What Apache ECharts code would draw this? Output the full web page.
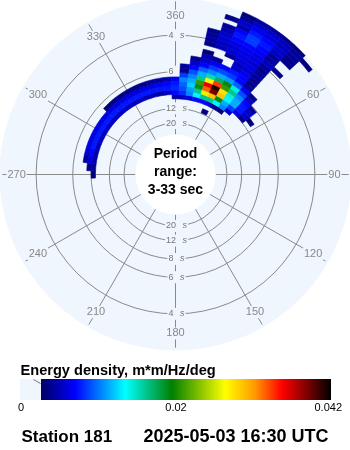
<!DOCTYPE html>
<html>
<head>
<meta charset="utf-8">
<script src="https://cdn.jsdelivr.net/npm/echarts@6/dist/echarts.min.js"></script>
<style>
  html, body { margin: 0; padding: 0; background: #ffffff; }
  #chart { width: 350px; height: 450px; }
</style>
</head>
<body>
<div id="chart"></div>
<script>
// Directional wave energy spectrum: direction (deg, clockwise from north) vs frequency (Hz).
const stationName = 'Station 181';
const timeLabel = '2025-05-03 16:30 UTC';
const periodNote = 'Period\nrange:\n3-33 sec';
const colorbarTitle = 'Energy density, m*m/Hz/deg';

// Rings (wave period, s) and spokes (direction, deg)
const ringPeriods = [4, 6, 8, 12, 20];
const spokeDirections = [0, 30, 60, 90, 120, 150, 180, 210, 240, 270, 300, 330];
const spokeLabels = ['360', '30', '60', '90', '120', '150', '180', '210', '240', '270', '300', '330'];

// Colorbar tick labels
const colorbarTicks = ['0', '0.02', '0.042'];

// Direction bins (deg, 5 deg wide)
const directions = [270, 275, 280, 285, 290, 295, 300, 305, 310, 315,
                    320, 325, 330, 335, 340, 345, 350, 355, 0, 5,
                    10, 15, 20, 25, 30, 35, 40, 45, 50, 55];

// Frequency band centres (Hz, 0.01 Hz wide)
const bands = [0.09, 0.10, 0.11, 0.12, 0.13, 0.14, 0.15, 0.16, 0.17, 0.18,
               0.19, 0.20, 0.21, 0.22, 0.23, 0.24, 0.25, 0.26, 0.27, 0.28,
               0.29, 0.30, 0.31, 0.32, 0.33];

// Energy density per band and direction, in 1e-3 m*m/Hz/deg
const energy = [
  /* 0.09 */ [0,0,0,0,0,0,0,0,0,0, 0,0,0,0,0,0,0,0,0,0, 0,0,0,3.5,0,0,0,0,0,0],
  /* 0.10 */ [0,0,0,0,0,0,0,0,0,0, 0,0,0,0,0,0,0,0,0,0, 0,0,0,0,0,0,0,0,0,0],
  /* 0.11 */ [0,0,0,0,0,0,0,0,0,0, 0,0,0,0,0,0,0,0,4.5,5.5, 6.5,7.5,7.5,6.5,4,3.5,0,0,0,0],
  /* 0.12 */ [3.5,4.5,5,5,5,5.5,5.5,5.5,5.5,5.5, 5.5,5.5,5.5,5.5,5,5,4.5,5.5,7.5,8.5, 11,14,17,17,14,11,6,0,0,0],
  /* 0.13 */ [0,4,6.5,7.5,8,8,8,8,8,8, 8,8,8,8,8,8,8,8,8.5,9.5, 11.5,17,27,30,20,12,9,7,4,0],
  /* 0.14 */ [0,0,4.5,6,6.5,6.5,6.5,6.5,6.5,6.5, 6.5,6.5,6.5,6.5,6.5,6.5,7,7.5,8,10, 13,20,33,39,30,14,12,8,6,3.5],
  /* 0.15 */ [0,0,0,0,0,0,0,0,0,3.5, 4,4,4,4,4,4.5,4.5,5,7,11, 12,22,36,41,29,15,12,8,6,0],
  /* 0.16 */ [0,0,0,0,0,0,0,0,0,0, 0,0,0,0,0,0,0,0,0,9, 11,17,28,34,22,17,11,7.5,4.5,0],
  /* 0.17 */ [0,0,0,0,0,0,0,0,0,0, 0,0,0,0,0,0,0,0,0,4, 9.5,12,16,18,20,15,9.5,6,0,0],
  /* 0.18 */ [0,0,0,0,0,0,0,0,0,0, 0,0,0,0,0,0,0,0,0,4.5, 7.5,10,11,12,11.5,10,7,4,0,0],
  /* 0.19 */ [0,0,0,0,0,0,0,0,0,0, 0,0,0,0,0,0,0,0,0,0, 6,7.5,9,9.5,9,7.5,4.5,0,0,0],
  /* 0.20 */ [0,0,0,0,0,0,0,0,0,0, 0,0,0,0,0,0,0,0,0,0, 4,6,7,7.5,8,7.5,4,0,0,0],
  /* 0.21 */ [0,0,0,0,0,0,0,0,0,0, 0,0,0,0,0,0,0,0,0,0, 0,5,4.5,0,6,7,4,0,0,0],
  /* 0.22 */ [0,0,0,0,0,0,0,0,0,0, 0,0,0,0,0,0,0,0,0,0, 0,3.5,0,0,5.5,6,4.5,0,0,0],
  /* 0.23 */ [0,0,0,0,0,0,0,0,0,0, 0,0,0,0,0,0,0,0,0,0, 0,0,0,4.5,6,6.5,4.5,0,0,0],
  /* 0.24 */ [0,0,0,0,0,0,0,0,0,0, 0,0,0,0,0,0,0,0,0,0, 0,4,5.5,6,6.5,6,4,0,0,0],
  /* 0.25 */ [0,0,0,0,0,0,0,0,0,0, 0,0,0,0,0,0,0,0,0,0, 0,4.5,5.5,6,6.5,6.5,4.5,0,0,0],
  /* 0.26 */ [0,0,0,0,0,0,0,0,0,0, 0,0,0,0,0,0,0,0,0,0, 0,4.5,6,6.5,7,6.5,5.5,4,0,0],
  /* 0.27 */ [0,0,0,0,0,0,0,0,0,0, 0,0,0,0,0,0,0,0,0,0, 0,4,6,7.5,7.5,7,4.5,0,0,0],
  /* 0.28 */ [0,0,0,0,0,0,0,0,0,0, 0,0,0,0,0,0,0,0,0,0, 0,0,5,8,9,7.5,4.5,0,0,0],
  /* 0.29 */ [0,0,0,0,0,0,0,0,0,0, 0,0,0,0,0,0,0,0,0,0, 0,0,4.5,7.5,9,8,5.5,4,0,0],
  /* 0.30 */ [0,0,0,0,0,0,0,0,0,0, 0,0,0,0,0,0,0,0,0,0, 0,0,0,5,8,7.5,6,4,0,0],
  /* 0.31 */ [0,0,0,0,0,0,0,0,0,0, 0,0,0,0,0,0,0,0,0,0, 0,0,4,6,7,6.5,5.5,4.5,0,0],
  /* 0.32 */ [0,0,0,0,0,0,0,0,0,0, 0,0,0,0,0,0,0,0,0,0, 0,0,0,4.5,6,6,5.5,4.5,3.5,0],
  /* 0.33 */ [0,0,0,0,0,0,0,0,0,0, 0,0,0,0,0,0,0,0,0,0, 0,0,0,3.5,4.5,4.5,4,3.5,0,0]
];
const ENERGY_UNIT = 1e-3;

// ---- layout / style ----
const CX = 175.5, CY = 174.5;
const BAND_W = 0.01, DIR_W = 5;
const F_MIN = 0, F_MAX = 1 / 3;
const HOLE_R = 40;
const HOLE_F = 0.024;        // spokes start at the hole edge
const SPOKE_END_F = 0.327;
const SPOKE_LABEL_F = 0.2945;
const DISK_COLOR = '#eff6fd';
const GRID_COLOR = '#8a8a8a';
const FONT = '"Liberation Sans", Arial, sans-serif';

// colour scale (value in m*m/Hz/deg -> rgb)
const colorStops = [
  [0.0028, [0, 0, 100]],
  [0.0074, [0, 0, 255]],
  [0.0142, [0, 255, 255]],
  [0.0205, [0, 128, 0]],
  [0.0277, [255, 255, 0]],
  [0.0317, [255, 153, 0]],
  [0.0354, [255, 0, 0]],
  [0.0387, [128, 0, 0]],
  [0.0420, [0, 0, 0]]
];
function energyColor(v) {
  if (v <= colorStops[0][0]) return 'rgb(' + colorStops[0][1].join(',') + ')';
  for (let i = 1; i < colorStops.length; i++) {
    if (v <= colorStops[i][0]) {
      const [v0, c0] = colorStops[i - 1], [v1, c1] = colorStops[i];
      const t = (v - v0) / (v1 - v0);
      const c = c0.map((x, k) => Math.round(x + (c1[k] - x) * t));
      return 'rgb(' + c.join(',') + ')';
    }
  }
  return 'rgb(0,0,0)';
}

// spectrum cells [frequency, direction, energy]
const cells = [];
bands.forEach((f, bi) => {
  energy[bi].forEach((v, di) => {
    if (v > 0) cells.push([f, directions[di], v * ENERGY_UNIT]);
  });
});

function polarInfo(cs, p) {
  return {
    r: Math.hypot(p[0] - cs.cx, p[1] - cs.cy),
    a: Math.atan2(p[1] - cs.cy, p[0] - cs.cx)
  };
}

function renderCell(params, api) {
  const cs = params.coordSys;
  const f = api.value(0), d = api.value(1), v = api.value(2);
  const q0 = polarInfo(cs, api.coord([f - BAND_W / 2, d - DIR_W / 2]));
  const q1 = polarInfo(cs, api.coord([f + BAND_W / 2, d + DIR_W / 2]));
  let a0 = q0.a, a1 = q1.a;
  if (a1 < a0) a1 += Math.PI * 2;
  const col = energyColor(v);
  return {
    type: 'sector',
    shape: { cx: cs.cx, cy: cs.cy, r0: q0.r, r: Math.min(q1.r, cs.r), startAngle: a0, endAngle: a1, clockwise: true },
    style: { fill: col, stroke: col, lineWidth: 0.6 }
  };
}

function renderDisk(params, api) {
  const cs = params.coordSys;
  return { type: 'circle', shape: { cx: cs.cx, cy: cs.cy, r: cs.r }, style: { fill: DISK_COLOR } };
}

function renderRing(params, api) {
  const cs = params.coordSys;
  const q = polarInfo(cs, api.coord([api.value(0), 0]));
  return {
    type: 'circle',
    shape: { cx: cs.cx, cy: cs.cy, r: q.r },
    style: { fill: 'none', stroke: GRID_COLOR, lineWidth: 1 }
  };
}

function renderSpoke(params, api) {
  const d = api.value(1);
  const p0 = api.coord([HOLE_F, d]);
  const p1 = api.coord([SPOKE_END_F, d]);
  return {
    type: 'line',
    shape: { x1: p0[0], y1: p0[1], x2: p1[0], y2: p1[1] },
    style: { stroke: GRID_COLOR, lineWidth: 1 }
  };
}

function renderSpokeLabel(params, api) {
  const d = api.value(1);
  const p = api.coord([SPOKE_LABEL_F, d]);
  return {
    type: 'text',
    x: p[0], y: p[1],
    style: {
      text: spokeLabels[api.value(2)],
      fill: '#888888',
      font: '11px ' + FONT,
      align: 'center', verticalAlign: 'middle',
      backgroundColor: DISK_COLOR,
      padding: [1, 1, 0, 1]
    }
  };
}

function renderRingLabel(params, api) {
  const p = api.coord([api.value(0), api.value(1)]);
  return {
    type: 'text',
    x: p[0] + 1, y: p[1],
    style: {
      text: '{n|' + api.value(2) + '}  {u|s}',
      rich: {
        n: { fill: '#777777', font: '9px ' + FONT },
        u: { fill: '#777777', font: 'italic 9px ' + FONT }
      },
      align: 'center', verticalAlign: 'middle',
      backgroundColor: DISK_COLOR,
      padding: [0, 1]
    }
  };
}

const ringData = ringPeriods.map(T => [1 / T, 0]);
const ringLabelData = [];
ringPeriods.forEach(T => { ringLabelData.push([1 / T, 0, T]); ringLabelData.push([1 / T, 180, T]); });
const spokeData = spokeDirections.map((d, i) => [SPOKE_END_F, d, i]);

// colorbar gradient (same colour scale)
const CB_X0 = 20, CB_X1 = 41, CB_X2 = 331, CB_Y = 379, CB_H = 21;
const vLo = colorStops[0][0], vHi = colorStops[colorStops.length - 1][0];
const gradientStops = colorStops.map(([v, c]) => ({ offset: (v - vLo) / (vHi - vLo), color: 'rgb(' + c.join(',') + ')' }));

const chart = echarts.init(document.getElementById('chart'), null, { renderer: 'canvas' });
chart.setOption({
  animation: false,
  backgroundColor: '#ffffff',
  polar: { center: [CX, CY], radius: [29.5, 176] },
  angleAxis: { type: 'value', min: 0, max: 360, startAngle: 90, clockwise: true, show: false },
  radiusAxis: { type: 'value', min: F_MIN, max: F_MAX, show: false },
  series: [
    { type: 'custom', coordinateSystem: 'polar', z: 1, silent: true, renderItem: renderDisk, data: [[0.2, 0]] },
    { type: 'custom', coordinateSystem: 'polar', z: 2, silent: true, renderItem: renderRing, data: ringData },
    { type: 'custom', coordinateSystem: 'polar', z: 2, silent: true, renderItem: renderSpoke, data: spokeData },
    { type: 'custom', coordinateSystem: 'polar', z: 3, silent: true, renderItem: renderSpokeLabel, data: spokeData },
    { type: 'custom', coordinateSystem: 'polar', z: 3, silent: true, renderItem: renderRingLabel, data: ringLabelData },
    {
      type: 'custom', coordinateSystem: 'polar', z: 4, silent: true,
      dimensions: ['frequency', 'direction', 'energy'],
      renderItem: renderCell, data: cells
    }
  ],
  graphic: [
    { type: 'circle', z: 100, shape: { cx: CX, cy: CY, r: HOLE_R }, style: { fill: '#ffffff' } },
    {
      type: 'text', z: 101, x: CX, y: 172.5,
      style: { text: periodNote, font: 'bold 14px ' + FONT, fill: '#000', align: 'center', verticalAlign: 'middle', lineHeight: 18 }
    },
    {
      type: 'text', z: 100, x: 20.5, y: 370.5,
      style: { text: colorbarTitle, font: 'bold 14.6px ' + FONT, fill: '#000', align: 'left', verticalAlign: 'middle' }
    },
    { type: 'rect', z: 100, shape: { x: CB_X0, y: CB_Y, width: CB_X1 - CB_X0, height: CB_H }, style: { fill: DISK_COLOR } },
    { type: 'line', z: 101, shape: { x1: 33.5, y1: 379.5, x2: 40.5, y2: 383.5 }, style: { stroke: '#777', lineWidth: 1 } },
    {
      type: 'rect', z: 100, shape: { x: CB_X1, y: CB_Y, width: CB_X2 - CB_X1, height: CB_H },
      style: { fill: new echarts.graphic.LinearGradient(0, 0, 1, 0, gradientStops) }
    },
    { type: 'text', z: 100, x: 18, y: 407.5, style: { text: colorbarTicks[0], font: '11px ' + FONT, fill: '#000', align: 'left', verticalAlign: 'middle' } },
    { type: 'text', z: 100, x: 176, y: 407.5, style: { text: colorbarTicks[1], font: '11px ' + FONT, fill: '#000', align: 'center', verticalAlign: 'middle' } },
    { type: 'text', z: 100, x: 342, y: 407.5, style: { text: colorbarTicks[2], font: '11px ' + FONT, fill: '#000', align: 'right', verticalAlign: 'middle' } },
    { type: 'text', z: 100, x: 21.5, y: 437.5, style: { text: stationName, font: 'bold 17px ' + FONT, fill: '#000', align: 'left', verticalAlign: 'middle' } },
    { type: 'text', z: 100, x: 328.5, y: 437.5, style: { text: timeLabel, font: 'bold 18px ' + FONT, fill: '#000', align: 'right', verticalAlign: 'middle' } }
  ]
});
</script>
</body>
</html>
